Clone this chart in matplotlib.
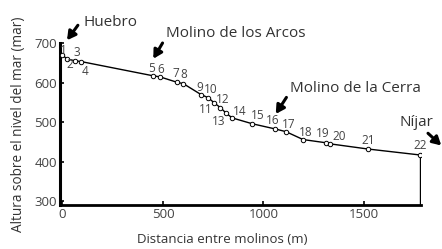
import matplotlib
matplotlib.use("Agg")
import matplotlib.pyplot as plt

plt.rcParams["font.family"] = ["Open Sans", "DejaVu Sans"]

# Molino profile: distance along route (m) and altitude (m)
mill_ids = [str(i) for i in range(1, 23)]
distance = [0, 25, 62, 92, 449, 486, 572, 601, 690, 726, 755, 786, 812, 844,
            945, 1058, 1112, 1197, 1309, 1333, 1520, 1777]
altitude = [670, 660, 656, 654, 618, 615, 601, 598, 570, 562, 549, 537, 524, 511,
            496, 483, 476, 456, 448, 445, 432, 417]

# label offsets in pixels (dx, dy), dy positive = up
label_offsets = [(1, 5), (2, -5), (2, 8), (4, -10), (-1, 7), (1, 7), (-2, 9), (0, 9),
                 (-1, 7), (2, 8), (-8, -7), (2, 8), (-7, -9), (8, 6), (5, 8), (-2, 8),
                 (3, 7), (3, 7), (-3, 9), (9, 7), (0, 9), (0, 9)]

# place names with arrows: text anchor, arrow tail, arrow tip (data coords)
places = ["Huebro", "Molino de los Arcos", "Molino de la Cerra", "Níjar"]
place_text_xy = [(103, 753), (514, 725), (1131, 585), (1761, 500)]
place_tail_xy = [(77, 746), (498, 701), (1114, 563), (1818, 472)]
place_tip_xy = [(23, 708), (452, 661), (1061, 521), (1884, 441)]
place_ha = ["left", "left", "left", "center"]

xticks = [0, 500, 1000, 1500]
yticks = [300, 400, 500, 600, 700]

fig = plt.figure(figsize=(4.42, 2.49), dpi=100)
ax = fig.add_axes([0.1357, 0.1767, 0.8167, 0.6506])

ax.plot(distance, altitude, color="black", lw=1.0, zorder=2)
ax.plot([distance[-1], distance[-1]], [altitude[-1], 290], color="black", lw=1.0, zorder=2)
ax.plot(distance, altitude, "o", ms=3.2, mfc="white", mec="black", mew=0.7, zorder=3)

for lab, x, y, (dx, dy) in zip(mill_ids, distance, altitude, label_offsets):
    ax.annotate(lab, (x, y), xytext=(dx, dy), textcoords="offset pixels",
                ha="center", va="center", fontsize=8.5, color="#444444")

for name, txy, tail, tip, ha in zip(places, place_text_xy, place_tail_xy,
                                    place_tip_xy, place_ha):
    ax.text(txy[0], txy[1], name, ha=ha, va="center", fontsize=11,
            color="#333333", clip_on=False)
    ax.annotate("", xy=tip, xytext=tail, annotation_clip=False,
                arrowprops=dict(arrowstyle="-|>,head_length=0.5,head_width=0.28",
                                color="black", lw=2.2, shrinkA=0, shrinkB=0))

ax.set_xlim(-12, 1783)
ax.set_ylim(290, 701)
ax.set_xticks(xticks)
ax.set_yticks(yticks)
ax.tick_params(direction="in", length=3, width=1.2, labelsize=9.5,
               labelcolor="#444444", pad=2)
for side in ["top", "right"]:
    ax.spines[side].set_visible(False)
ax.spines["left"].set_linewidth(2.2)
ax.spines["bottom"].set_linewidth(2.0)

ax.set_xlabel("Distancia entre molinos (m)", fontsize=9.5, color="#333333")
ax.xaxis.set_label_coords(0.449, -0.17)
ax.set_ylabel("Altura sobre el nivel del mar (mar)", fontsize=9.8, color="#333333", labelpad=6)

fig.savefig("out.png", dpi=100)
